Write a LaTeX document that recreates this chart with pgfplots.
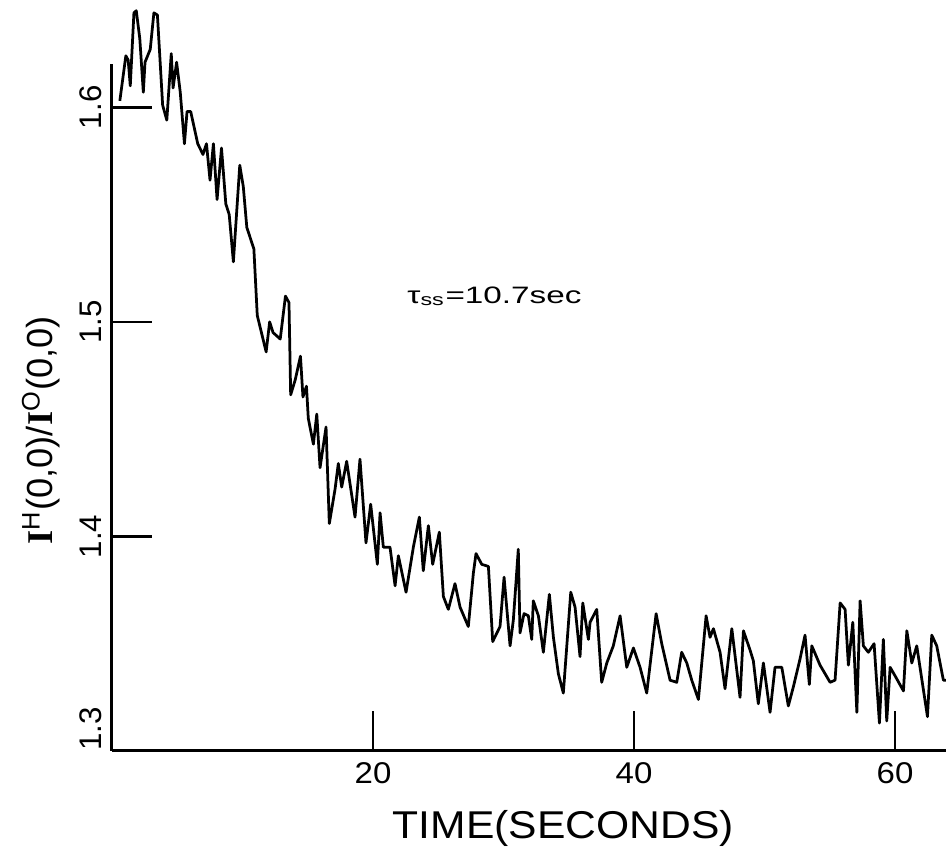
\documentclass[border=0pt]{standalone}
\usepackage{pgfplots}
\pgfplotsset{compat=1.18}
\usepackage{fontspec}
\setmainfont{Liberation Sans}
\newfontfamily\serifI{Liberation Serif}

\begin{document}
\begin{tikzpicture}
\begin{axis}[
  at={(0,0)}, anchor=south west,
  scale only axis, width=333.6pt, height=300.4pt,
  xmin=0, xmax=63.9, ymin=1.3, ymax=1.65,
  axis x line*=bottom, axis y line*=left,
  x axis line style={line width=1.2pt},
  y axis line style={draw=none},
  xtick={20,40,60}, ytick={1.4,1.5,1.6},
  extra y ticks={1.3},
  extra y tick style={yticklabel style={anchor=south west}},
  tick align=inside, major tick length=16pt,
  tick style={line width=1pt, black},
  yticklabel style={rotate=90, anchor=south, inner xsep=0pt, inner ysep=4pt,
    font=\fontsize{12.5}{15}\selectfont,
    /pgf/number format/fixed, /pgf/number format/precision=1,
    /pgf/number format/fixed zerofill},
  xticklabel style={anchor=north, inner sep=0pt, yshift=-4.5pt, xscale=1.1,
    font=\fontsize{12}{14}\selectfont},
  /pgf/number format/assume math mode=true,
  xlabel={TIME(SECONDS)},
  ylabel={{\serifI\bfseries I}\textsuperscript{H}(0,0)/{\serifI\bfseries I}\textsuperscript{O}(0,0)},
  every axis x label/.style={at={(axis description cs:0.541,-0.103)}, anchor=center,
    inner sep=0pt, xscale=1.1, font=\fontsize{15.5}{18}\selectfont},
  every axis y label/.style={at={(axis description cs:-0.085,0.427)}, rotate=90, anchor=center,
    inner sep=0pt, font=\fontsize{14.5}{17}\selectfont},
  clip=false,
]
\addplot[black, line width=1.1pt, line join=round, no marks] coordinates {
(0.60,1.603) (1.06,1.624) (1.24,1.622) (1.40,1.610) (1.68,1.644) (1.86,1.645)
(2.13,1.632) (2.40,1.607) (2.53,1.621) (2.93,1.627) (3.21,1.644) (3.48,1.643)
(3.88,1.601) (4.20,1.594) (4.54,1.625) (4.68,1.609) (4.95,1.621) (5.23,1.607)
(5.55,1.583) (5.75,1.598) (6.03,1.598) (6.57,1.583) (6.97,1.578) (7.24,1.583)
(7.51,1.566) (7.77,1.583) (8.05,1.557) (8.39,1.581) (8.72,1.555) (8.98,1.550)
(9.30,1.528) (9.79,1.573) (10.06,1.563) (10.33,1.544) (10.87,1.534) (11.13,1.503)
(11.81,1.486) (12.08,1.500) (12.34,1.495) (12.89,1.492) (13.29,1.512) (13.56,1.509)
(13.69,1.466) (14.04,1.473) (14.44,1.484) (14.63,1.465) (14.90,1.470)
(15.04,1.455) (15.43,1.443) (15.69,1.457) (15.94,1.432) (16.40,1.451) (16.65,1.406)
(17.09,1.422) (17.34,1.434) (17.60,1.423) (17.98,1.435) (18.62,1.409) (19.00,1.436)
(19.46,1.397) (19.82,1.415) (20.33,1.387) (20.54,1.411) (20.79,1.395) (21.30,1.395)
(21.69,1.377) (21.94,1.391) (22.53,1.374) (23.09,1.395) (23.55,1.409) (23.85,1.384)
(24.24,1.405) (24.57,1.387) (25.08,1.402) (25.39,1.372) (25.77,1.366) (26.28,1.378)
(26.67,1.367) (27.30,1.358) (27.69,1.383) (27.89,1.392) (28.33,1.387) (28.84,1.386)
(29.17,1.351) (29.73,1.358) (30.04,1.381) (30.50,1.349) (30.75,1.361) (31.13,1.394)
(31.26,1.355) (31.57,1.364) (31.90,1.363) (32.16,1.352) (32.28,1.370) (32.67,1.363)
(33.05,1.346) (33.51,1.373) (33.82,1.353) (34.20,1.336) (34.58,1.327) (35.15,1.374)
(35.48,1.367) (35.86,1.344) (36.07,1.369) (36.50,1.352) (36.63,1.360) (37.14,1.366)
(37.52,1.332) (37.91,1.341) (38.41,1.349) (38.93,1.363) (39.44,1.339) (39.95,1.348)
(40.46,1.339) (40.97,1.327) (41.69,1.364) (42.12,1.350) (42.76,1.333) (43.27,1.332)
(43.65,1.346) (44.04,1.341) (44.42,1.333) (44.93,1.324) (45.52,1.363) (45.82,1.353)
(46.08,1.357) (46.59,1.346) (46.97,1.329) (47.49,1.357) (48.12,1.325) (48.38,1.356)
(48.89,1.347) (49.14,1.342) (49.52,1.322) (49.91,1.341) (50.42,1.318) (50.80,1.339)
(51.32,1.339) (51.82,1.321) (52.21,1.330) (52.72,1.343) (53.10,1.354) (53.43,1.331)
(53.62,1.349) (54.25,1.340) (55.02,1.332) (55.40,1.333) (55.79,1.369) (56.17,1.366)
(56.42,1.340) (56.76,1.360) (57.07,1.318) (57.32,1.370) (57.57,1.349) (57.95,1.346)
(58.39,1.350) (58.80,1.313) (59.10,1.352) (59.36,1.314) (59.62,1.339) (60.00,1.335)
(60.64,1.328) (60.90,1.356) (61.28,1.341) (61.66,1.349) (62.48,1.316) (62.81,1.354)
(63.19,1.349) (63.70,1.333) (63.91,1.333)
};
% left axis line stops short of the top, as in the original
\draw[line width=1.2pt] (axis cs:0,1.3) -- (axis cs:0,1.62);
\node[anchor=center, xscale=1.4, font=\fontsize{9.5}{12}\selectfont] at (axis cs:29.3,1.512)
  {τ\textsubscript{ss}=10.7sec};
\end{axis}
% fix the page to the reference's frame
\pgfresetboundingbox
\path[use as bounding box] (-44.8pt,-39.2pt) rectangle (333.6pt,300.4pt);
\end{tikzpicture}
\end{document}
